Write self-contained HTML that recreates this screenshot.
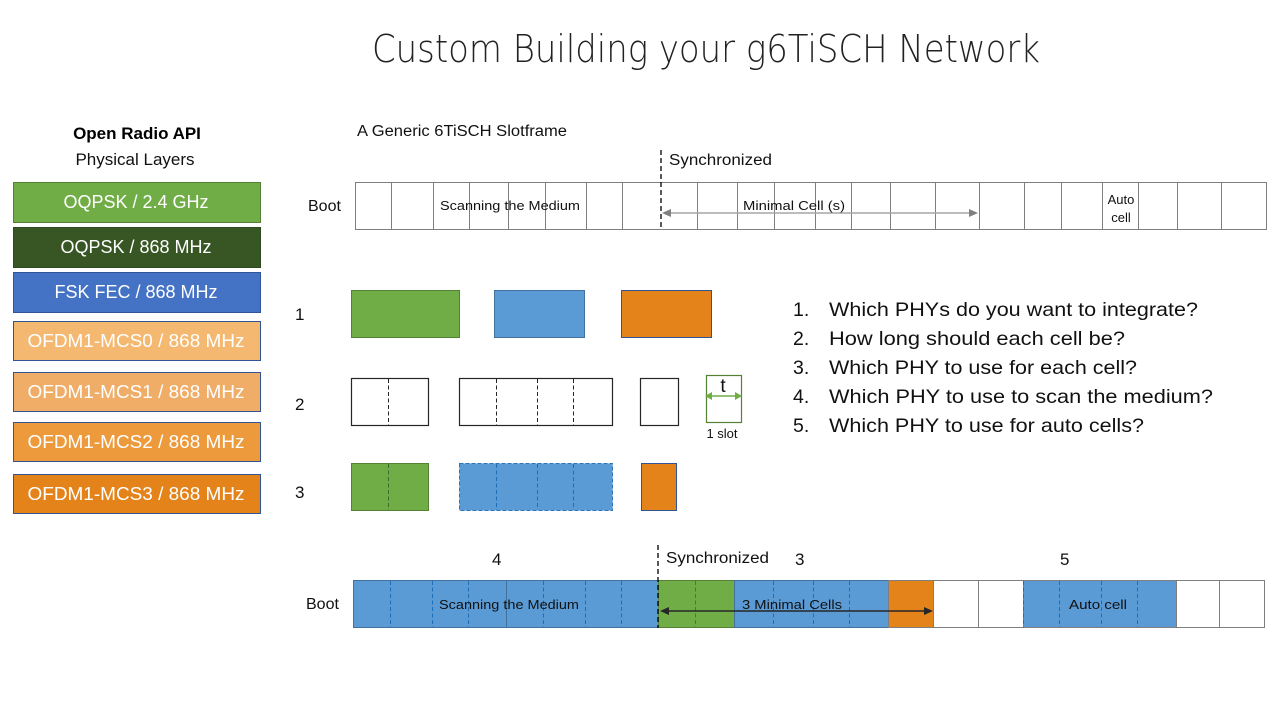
<!DOCTYPE html>
<html><head><meta charset="utf-8"><style>
html,body{margin:0;padding:0;background:#fff;}
svg{display:block;font-family:"Liberation Sans",sans-serif;}
</style></head><body>
<svg width="1280" height="720" viewBox="0 0 1280 720" xmlns="http://www.w3.org/2000/svg">
<rect width="1280" height="720" fill="#fff"/>
<text x="372" y="62" font-size="38" fill="#222" textLength="668" lengthAdjust="spacingAndGlyphs" style="font-family:'DejaVu Sans','Liberation Sans',sans-serif;font-weight:200">Custom Building your g6TiSCH Network</text>

<!-- Left legend -->
<text x="137" y="139" font-size="17" font-weight="bold" text-anchor="middle" fill="#000">Open Radio API</text>
<text x="135" y="165" font-size="17" text-anchor="middle" fill="#111">Physical Layers</text>
<g font-size="18" fill="#fff" text-anchor="middle">
<rect x="13.5" y="182.5" width="247" height="40" fill="#70ad47" stroke="#548235"/>
<text x="136" y="208">OQPSK / 2.4 GHz</text>
<rect x="13.5" y="227.5" width="247" height="40" fill="#375623" stroke="#2e4a1c"/>
<text x="136" y="253">OQPSK / 868 MHz</text>
<rect x="13.5" y="272.5" width="247" height="40" fill="#4472c4" stroke="#2f5597"/>
<text x="136" y="298">FSK FEC / 868 MHz</text>
<rect x="13.5" y="321.5" width="247" height="39" fill="#f4b870" stroke="#2f5597"/>
<text x="136" y="347" textLength="217" lengthAdjust="spacingAndGlyphs">OFDM1-MCS0 / 868 MHz</text>
<rect x="13.5" y="372.5" width="247" height="39" fill="#f0ad68" stroke="#2f5597"/>
<text x="136" y="398" textLength="217" lengthAdjust="spacingAndGlyphs">OFDM1-MCS1 / 868 MHz</text>
<rect x="13.5" y="422.5" width="247" height="39" fill="#ec9a3c" stroke="#2f5597"/>
<text x="136" y="448" textLength="217" lengthAdjust="spacingAndGlyphs">OFDM1-MCS2 / 868 MHz</text>
<rect x="13.5" y="474.5" width="247" height="39" fill="#e3831a" stroke="#2f5597"/>
<text x="136" y="500" textLength="217" lengthAdjust="spacingAndGlyphs">OFDM1-MCS3 / 868 MHz</text>
</g>

<!-- Top slotframe -->
<text x="357" y="136" font-size="15.5" fill="#111" textLength="210" lengthAdjust="spacingAndGlyphs">A Generic 6TiSCH Slotframe</text>
<text x="669" y="165" font-size="15.5" fill="#111" textLength="103" lengthAdjust="spacingAndGlyphs">Synchronized</text>
<text x="308" y="211" font-size="16" fill="#111">Boot</text>
<rect x="355.5" y="182.5" width="911" height="47" fill="#fff" stroke="#7f7f7f"/>
<g stroke="#7f7f7f">
<line x1="391.5" y1="182" x2="391.5" y2="230"/><line x1="433.5" y1="182" x2="433.5" y2="230"/>
<line x1="469.5" y1="182" x2="469.5" y2="230"/><line x1="508.5" y1="182" x2="508.5" y2="230"/>
<line x1="545.5" y1="182" x2="545.5" y2="230"/><line x1="586.5" y1="182" x2="586.5" y2="230"/>
<line x1="622.5" y1="182" x2="622.5" y2="230"/>
<line x1="697.5" y1="182" x2="697.5" y2="230"/><line x1="737.5" y1="182" x2="737.5" y2="230"/>
<line x1="774.5" y1="182" x2="774.5" y2="230"/><line x1="815.5" y1="182" x2="815.5" y2="230"/>
<line x1="851.5" y1="182" x2="851.5" y2="230"/><line x1="890.5" y1="182" x2="890.5" y2="230"/>
<line x1="935.5" y1="182" x2="935.5" y2="230"/><line x1="979.5" y1="182" x2="979.5" y2="230"/>
<line x1="1024.5" y1="182" x2="1024.5" y2="230"/><line x1="1061.5" y1="182" x2="1061.5" y2="230"/>
<line x1="1102.5" y1="182" x2="1102.5" y2="230"/><line x1="1138.5" y1="182" x2="1138.5" y2="230"/>
<line x1="1177.5" y1="182" x2="1177.5" y2="230"/><line x1="1221.5" y1="182" x2="1221.5" y2="230"/>
</g>
<line x1="661" y1="150" x2="661" y2="230" stroke="#000" stroke-width="1.3" stroke-dasharray="5,3"/>
<line x1="975" y1="213" x2="664" y2="213" stroke="#a6a6a6" stroke-width="1.5"/>
<path d="M662,213 L671,209 L671,217z" fill="#808080"/>
<path d="M978,213 L969,209 L969,217z" fill="#808080"/>
<text x="440" y="210" font-size="13" fill="#111" textLength="140" lengthAdjust="spacingAndGlyphs">Scanning the Medium</text>
<text x="743" y="210" font-size="13" fill="#111" textLength="102" lengthAdjust="spacingAndGlyphs">Minimal Cell (s)</text>
<text x="1121" y="204" font-size="13" fill="#111" text-anchor="middle">Auto</text>
<text x="1121" y="222" font-size="13" fill="#111" text-anchor="middle">cell</text>

<!-- Rows 1-3 -->
<g font-size="17" fill="#111">
<text x="295" y="320">1</text><text x="295" y="410">2</text><text x="295" y="498">3</text>
</g>
<rect x="351.5" y="290.5" width="108" height="47" fill="#70ad47" stroke="#548235"/>
<rect x="494.5" y="290.5" width="90" height="47" fill="#5b9bd5" stroke="#41719c"/>
<rect x="621.5" y="290.5" width="90" height="47" fill="#e3831a" stroke="#2f5597"/>

<g fill="#fff" stroke="#262626" stroke-width="1.2">
<rect x="351.5" y="378.5" width="77" height="47"/>
<rect x="459.5" y="378.5" width="153" height="47"/>
<rect x="640.5" y="378.5" width="38" height="47"/>
</g>
<g stroke="#262626" stroke-dasharray="4,2.5">
<line x1="388.5" y1="379" x2="388.5" y2="425"/>
<line x1="496.5" y1="379" x2="496.5" y2="425"/>
<line x1="537.5" y1="379" x2="537.5" y2="425"/>
<line x1="573.5" y1="379" x2="573.5" y2="425"/>
</g>
<rect x="706.5" y="375.5" width="35" height="47" fill="#fff" stroke="#548235" stroke-width="1.2"/>
<line x1="709" y1="396" x2="739" y2="396" stroke="#70ad47" stroke-width="1.5"/>
<path d="M705,396 L712,392 L712,400z" fill="#70ad47"/>
<path d="M742,396 L735,392 L735,400z" fill="#70ad47"/>
<text x="723" y="392" font-size="19" fill="#111" text-anchor="middle">t</text>
<text x="722" y="438" font-size="13" fill="#111" text-anchor="middle">1  slot</text>

<rect x="351.5" y="463.5" width="77" height="47" fill="#70ad47" stroke="#548235"/>
<line x1="388.5" y1="464" x2="388.5" y2="510" stroke="#3d6b27" stroke-dasharray="4,2.5"/>
<rect x="459.5" y="463.5" width="153" height="47" fill="#5b9bd5" stroke="#2e75b6" stroke-dasharray="4,2"/>
<g stroke="#1f6fb8" stroke-dasharray="4,2.5">
<line x1="496.5" y1="464" x2="496.5" y2="510"/>
<line x1="537.5" y1="464" x2="537.5" y2="510"/>
<line x1="573.5" y1="464" x2="573.5" y2="510"/>
</g>
<rect x="641.5" y="463.5" width="35" height="47" fill="#e3831a" stroke="#2f5597"/>

<!-- Questions -->
<g font-size="19.5" fill="#111">
<text x="793" y="316">1.</text><text x="829" y="316" textLength="369" lengthAdjust="spacingAndGlyphs">Which PHYs do you want to integrate?</text>
<text x="793" y="345">2.</text><text x="829" y="345" textLength="296" lengthAdjust="spacingAndGlyphs">How long should each cell be?</text>
<text x="793" y="374">3.</text><text x="829" y="374" textLength="308" lengthAdjust="spacingAndGlyphs">Which PHY to use for each cell?</text>
<text x="793" y="403">4.</text><text x="829" y="403" textLength="384" lengthAdjust="spacingAndGlyphs">Which PHY to use to scan the medium?</text>
<text x="793" y="432">5.</text><text x="829" y="432" textLength="315" lengthAdjust="spacingAndGlyphs">Which PHY to use for auto cells?</text>
</g>

<!-- Bottom slotframe -->
<g font-size="17" fill="#111">
<text x="492" y="565">4</text><text x="795" y="565">3</text><text x="1060" y="565">5</text>
</g>
<text x="666" y="563" font-size="15.5" fill="#111" textLength="103" lengthAdjust="spacingAndGlyphs">Synchronized</text>
<text x="306" y="609" font-size="16" fill="#111">Boot</text>
<rect x="353.5" y="580.5" width="911" height="47" fill="#fff" stroke="#7f7f7f"/>
<rect x="353.5" y="580.5" width="305" height="47" fill="#5b9bd5" stroke="#41719c"/>
<rect x="658.5" y="580.5" width="76" height="47" fill="#70ad47" stroke="#548235"/>
<rect x="734.5" y="580.5" width="154" height="47" fill="#5b9bd5" stroke="#41719c"/>
<rect x="888.5" y="580.5" width="45" height="47" fill="#e3831a" stroke="#7f7f7f"/>
<rect x="1023.5" y="580.5" width="153" height="47" fill="#5b9bd5" stroke="#7f7f7f"/>
<g stroke="#1f6fb8" stroke-dasharray="4,2.5">
<line x1="390.5" y1="581" x2="390.5" y2="627"/><line x1="432.5" y1="581" x2="432.5" y2="627"/>
<line x1="468.5" y1="581" x2="468.5" y2="627"/>
<line x1="543.5" y1="581" x2="543.5" y2="627"/><line x1="585.5" y1="581" x2="585.5" y2="627"/>
<line x1="621.5" y1="581" x2="621.5" y2="627"/>
<line x1="773.5" y1="581" x2="773.5" y2="627"/><line x1="813.5" y1="581" x2="813.5" y2="627"/>
<line x1="849.5" y1="581" x2="849.5" y2="627"/>
<line x1="1023.5" y1="581" x2="1023.5" y2="627"/><line x1="1059.5" y1="581" x2="1059.5" y2="627"/>
<line x1="1101.5" y1="581" x2="1101.5" y2="627"/><line x1="1137.5" y1="581" x2="1137.5" y2="627"/>
</g>
<line x1="506.5" y1="581" x2="506.5" y2="627" stroke="#41719c"/>
<line x1="695.5" y1="581" x2="695.5" y2="627" stroke="#4a7a2c" stroke-dasharray="4,2.5"/>
<g stroke="#7f7f7f">
<line x1="978.5" y1="581" x2="978.5" y2="627"/>
<line x1="1219.5" y1="581" x2="1219.5" y2="627"/>
</g>
<line x1="658" y1="545" x2="658" y2="628" stroke="#000" stroke-width="1.3" stroke-dasharray="5,3"/>
<line x1="663" y1="611" x2="928" y2="611" stroke="#262626" stroke-width="1.5"/>
<path d="M660,611 L669,607 L669,615z" fill="#262626"/>
<path d="M933,611 L924,607 L924,615z" fill="#262626"/>
<text x="439" y="609" font-size="13" fill="#111" textLength="140" lengthAdjust="spacingAndGlyphs">Scanning the Medium</text>
<text x="742" y="609" font-size="13" fill="#111" textLength="100" lengthAdjust="spacingAndGlyphs">3 Minimal Cells</text>
<text x="1069" y="609" font-size="13" fill="#111" textLength="58" lengthAdjust="spacingAndGlyphs">Auto cell</text>
</svg>
</body></html>
